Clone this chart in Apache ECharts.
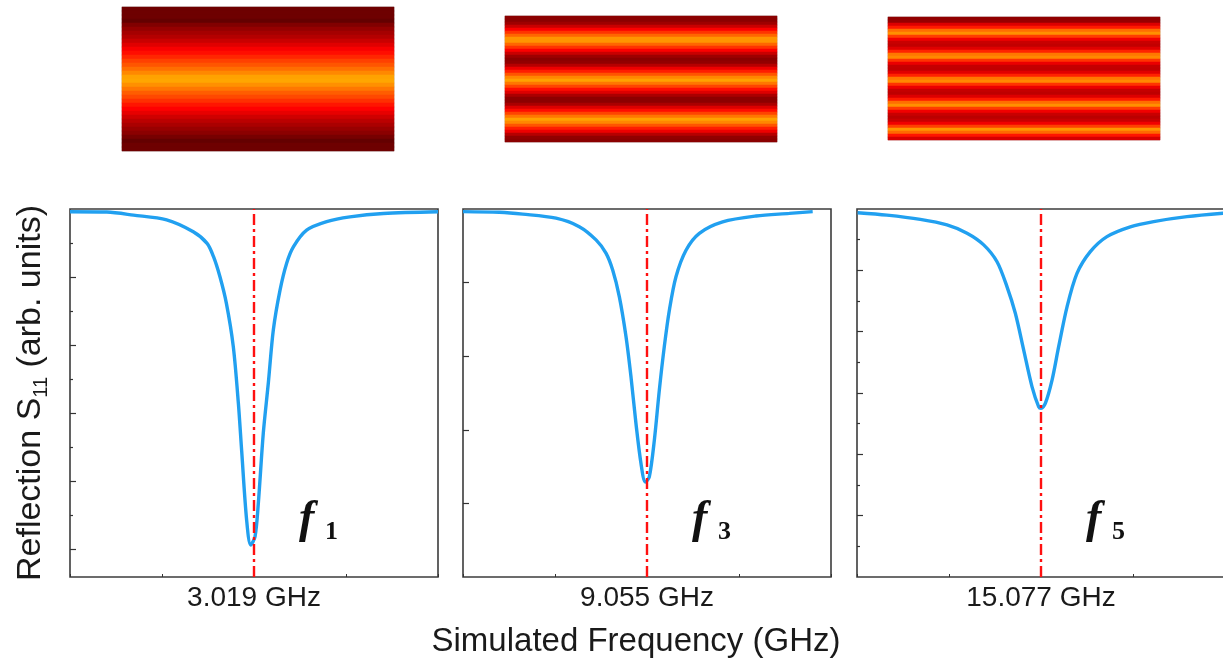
<!DOCTYPE html>
<html><head><meta charset="utf-8">
<script src="https://cdn.jsdelivr.net/npm/echarts@6/dist/echarts.min.js"></script>
<style>html,body{margin:0;padding:0;background:#fff}#c{width:1223px;height:663px}</style>
</head><body><div id="c"></div>
<script>
// ---- data ----
const resonanceLabels = ['3.019 GHz', '9.055 GHz', '15.077 GHz'];
const modeNames = ['1', '3', '5'];

// detuning from resonance (axis units: -2..2), reflection S11 (arb. units)
const f1X = [-2.0, -1.6, -1.31, -0.95, -0.66, -0.51, -0.44, -0.37, -0.30, -0.225, -0.17, -0.134, -0.08, -0.036, 0.011, 0.047, 0.101, 0.156, 0.21, 0.283, 0.355, 0.428, 0.572, 0.79, 1.043, 1.406, 2.0];
const f1Y = [0.992, 0.991, 0.982, 0.968, 0.933, 0.899, 0.860, 0.801, 0.723, 0.596, 0.430, 0.290, 0.087, 0.014, 0.038, 0.136, 0.342, 0.49, 0.645, 0.762, 0.841, 0.889, 0.938, 0.963, 0.977, 0.987, 0.992];

const f3X = [-2.0, -1.605, -1.351, -0.989, -0.736, -0.554, -0.446, -0.373, -0.301, -0.228, -0.174, -0.120, -0.065, -0.018, 0.025, 0.080, 0.134, 0.188, 0.243, 0.315, 0.424, 0.569, 0.822, 1.185, 1.547, 1.801];
const f3Y = [0.993, 0.991, 0.986, 0.975, 0.952, 0.916, 0.880, 0.834, 0.762, 0.653, 0.544, 0.417, 0.308, 0.258, 0.272, 0.372, 0.508, 0.626, 0.725, 0.816, 0.888, 0.934, 0.965, 0.981, 0.988, 0.993];

const f5X = [-1.993, -1.674, -1.312, -1.022, -0.804, -0.623, -0.478, -0.370, -0.279, -0.188, -0.098, -0.025, 0.0, 0.047, 0.120, 0.192, 0.283, 0.391, 0.536, 0.717, 0.971, 1.225, 1.587, 1.982];
const f5Y = [1.188, 1.180, 1.166, 1.148, 1.121, 1.083, 1.028, 0.947, 0.860, 0.740, 0.621, 0.555, 0.550, 0.566, 0.642, 0.751, 0.881, 0.990, 1.061, 1.110, 1.142, 1.159, 1.175, 1.186];

// y tick values per panel
const yRange1 = [-0.08, 1.0], yMajor1 = [0, 0.2, 0.4, 0.6, 0.8], yMinor1 = [0.1, 0.3, 0.5, 0.7, 0.9];
const yRange3 = [0, 1.0],     yMajor3 = [0.2, 0.4, 0.6, 0.8],    yMinor3 = [];
const yRange5 = [0, 1.2],     yMajor5 = [0.2, 0.4, 0.6, 0.8, 1.0], yMinor5 = [0.1, 0.3, 0.5, 0.7, 0.9, 1.1];

// field-intensity maps (normalized), row by row from top
const map1 = [0.08, 0.08, 0.08, 0.04, 0.16, 0.24, 0.31, 0.37, 0.44, 0.51, 0.58, 0.63, 0.69, 0.75, 0.80, 0.86, 0.92, 0.98, 0.99, 0.94, 0.88, 0.82, 0.77, 0.71, 0.65, 0.60, 0.53, 0.46, 0.40, 0.33, 0.26, 0.20, 0.12, 0.04, 0.08, 0.08];
const map3 = [0.20, 0.20, 0.28, 0.44, 0.59, 0.72, 0.84, 0.95, 0.95, 0.84, 0.72, 0.59, 0.44, 0.28, 0.20, 0.23, 0.38, 0.55, 0.67, 0.80, 0.92, 0.98, 0.88, 0.76, 0.63, 0.50, 0.33, 0.21, 0.21, 0.33, 0.50, 0.63, 0.76, 0.88, 0.98, 0.92, 0.80, 0.67, 0.55, 0.38, 0.23, 0.20];
const map5 = [0.22, 0.25, 0.50, 0.66, 0.86, 0.94, 0.74, 0.56, 0.44, 0.42, 0.51, 0.68, 0.88, 0.92, 0.72, 0.54, 0.43, 0.42, 0.51, 0.68, 0.88, 0.92, 0.72, 0.54, 0.43, 0.41, 0.50, 0.66, 0.86, 0.94, 0.74, 0.56, 0.44, 0.40, 0.44, 0.56, 0.75, 0.95, 0.85, 0.65, 0.48];

// ---- layout ----
const plotLeft = [70, 463, 857], plotTop = 209, plotSize = 368;
const mapRects = [[122, 7, 272, 144], [505, 16, 272, 126], [888, 17, 272, 123]];
const FONT = 'Liberation Sans, Arial, sans-serif';
const TXT = '#1a1a1a';

const curves = [[f1X, f1Y], [f3X, f3Y], [f5X, f5Y]];
const ranges = [yRange1, yRange3, yRange5];
const majors = [yMajor1, yMajor3, yMajor5];
const minors = [yMinor1, yMinor3, yMinor5];
const maps = [map1, map3, map5];

const grids = [], xAxes = [], yAxes = [], series = [], graphics = [];

for (let p = 0; p < 3; p++) {
  const gi = grids.length;
  grids.push({left: plotLeft[p], top: plotTop, width: plotSize, height: plotSize, outerBoundsMode: 'none',
    containLabel: false, show: true, borderColor: '#3c3c3c', borderWidth: 1.6, backgroundColor: 'transparent'});
  const xi = xAxes.length;
  xAxes.push({type: 'value', gridIndex: gi, position: 'bottom', min: -2, max: 2, interval: 1,
    axisLine: {show: false, onZero: false}, splitLine: {show: false},
    axisTick: {show: true, inside: true, length: 3, lineStyle: {color: '#333', width: 1}},
    axisLabel: {formatter: v => (v === 0 ? resonanceLabels[p] : ''), fontSize: 28, color: TXT,
      fontFamily: FONT, margin: 7, hideOverlap: false}});
  const yi = yAxes.length;
  yAxes.push({type: 'value', gridIndex: gi, position: 'left', min: ranges[p][0], max: ranges[p][1],
    axisLine: {show: false, onZero: false}, splitLine: {show: false}, axisLabel: {show: false},
    axisTick: {show: true, inside: true, length: 6, customValues: majors[p], lineStyle: {color: '#333', width: 1.2}}});
  if (minors[p].length) {
    yAxes.push({type: 'value', gridIndex: gi, position: 'left', offset: 0, min: ranges[p][0], max: ranges[p][1],
      axisLine: {show: false, onZero: false}, splitLine: {show: false}, axisLabel: {show: false},
      axisTick: {show: true, inside: true, length: 3, customValues: minors[p], lineStyle: {color: '#333', width: 1.2}}});
  }
  const [xs, ys] = curves[p];
  series.push({type: 'line', xAxisIndex: xi, yAxisIndex: yi, data: xs.map((x, i) => [x, ys[i]]),
    showSymbol: false, smooth: 0.3, silent: true, z: 3,
    lineStyle: {color: '#21a0f0', width: 3.4}, itemStyle: {color: '#21a0f0'}});
  series.push({type: 'line', xAxisIndex: xi, yAxisIndex: yi, data: [], z: 5, silent: true,
    markLine: {silent: true, symbol: ['none', 'none'], label: {show: false}, animation: false,
      lineStyle: {color: '#ff1010', width: 2.4, type: [11, 4, 3, 4]}, data: [{xAxis: 0}]}});

  // mode label f_n
  graphics.push({type: 'text', x: plotLeft[p] + 229, y: 520, z: 10,
    style: {text: 'f', font: 'italic bold 46px "Liberation Serif", serif', fill: '#111', align: 'left', verticalAlign: 'middle'}});
  graphics.push({type: 'text', x: plotLeft[p] + 255, y: 532, z: 10,
    style: {text: modeNames[p], font: 'bold 26px "Liberation Serif", serif', fill: '#111', align: 'left', verticalAlign: 'middle'}});
}

const heatIdx = [];
for (let p = 0; p < 3; p++) {
  const [l, t, w, h] = mapRects[p];
  const gi = grids.length;
  grids.push({left: l, top: t, width: w, height: h, outerBoundsMode: 'none', containLabel: false,
    show: true, borderColor: '#c8c8c8', borderWidth: 1, backgroundColor: 'transparent'});
  const xi = xAxes.length;
  xAxes.push({type: 'category', gridIndex: gi, data: ['x'], show: false});
  const yi = yAxes.length;
  yAxes.push({type: 'category', gridIndex: gi, data: maps[p].map((v, i) => String(i)), inverse: true, show: false});
  heatIdx.push(series.length);
  series.push({type: 'heatmap', xAxisIndex: xi, yAxisIndex: yi, silent: true, z: 1,
    data: maps[p].map((v, i) => [0, i, v]), itemStyle: {borderWidth: 0}, emphasis: {disabled: true}});
}

graphics.push({type: 'text', x: 31, y: 393, rotation: Math.PI / 2, z: 10,
  style: {text: 'Reflection S{sub|11} (arb. units)', font: '34px ' + FONT, fill: TXT,
    align: 'center', verticalAlign: 'middle', lineHeight: 40,
    rich: {sub: {fontSize: 20, fontFamily: FONT, fill: TXT, verticalAlign: 'bottom', lineHeight: 20}}}});
graphics.push({type: 'text', x: 636, y: 642, z: 10,
  style: {text: 'Simulated Frequency (GHz)', font: '33px ' + FONT, fill: TXT, align: 'center', verticalAlign: 'middle'}});

const chart = echarts.init(document.getElementById('c'), null, {renderer: 'canvas'});
chart.setOption({
  animation: false,
  backgroundColor: '#ffffff',
  grid: grids, xAxis: xAxes, yAxis: yAxes, series: series,
  visualMap: {type: 'continuous', show: false, min: 0, max: 1, seriesIndex: heatIdx,
    inRange: {color: ['#5a0000', '#8b0000', '#bb0000', '#ff0000', '#ff5500', '#ffaa00']}},
  graphic: graphics
});
</script></body></html>
